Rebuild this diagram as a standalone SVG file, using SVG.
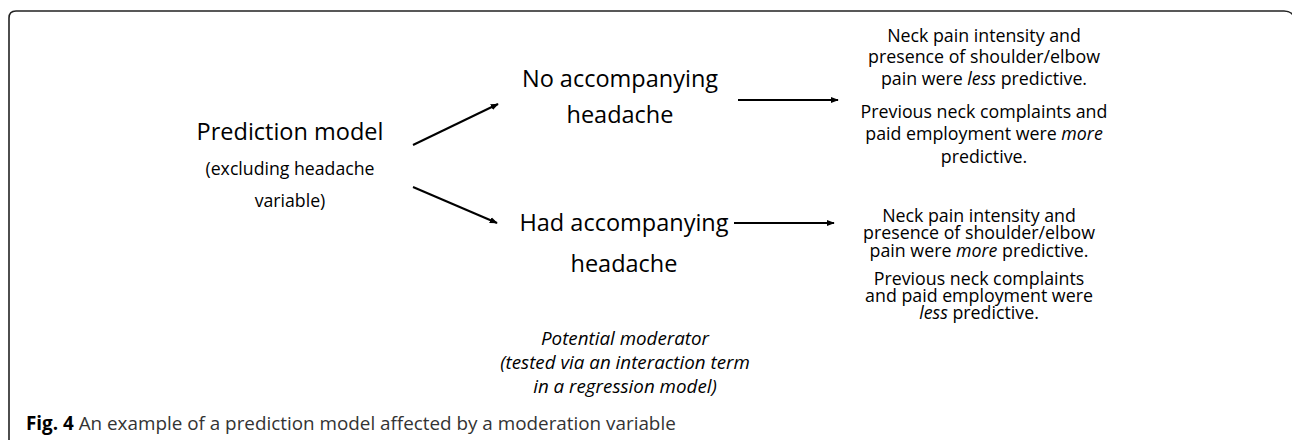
<svg xmlns="http://www.w3.org/2000/svg" width="1292" height="440" viewBox="0 0 1292 440">
<style>
.t{font-family:"Open Sans","Noto Sans",sans-serif;fill:#000;text-anchor:middle}
.big{font-size:23.5px}
.mid{font-size:17.7px}
.mod{font-size:18.8px}
.sm{font-size:17.8px}
.it{font-style:italic}
.ln{stroke:#000;stroke-width:2;fill:none}
.cap{font-family:"Open Sans","Noto Sans",sans-serif;font-size:18.85px;fill:#333}
</style>
<defs>
<marker id="ah" viewBox="0 0 10 10" refX="9" refY="5" markerWidth="4" markerHeight="4" orient="auto" markerUnits="strokeWidth">
<path d="M0,1 L10,5 L0,9 z" fill="#000"/>
</marker>
</defs>
<rect width="1292" height="440" fill="#fff"/>
<path d="M9,440 V18 Q9,11 16,11 H1284 Q1290,11 1293,15" fill="none" stroke="#222" stroke-width="1.6"/>
<g id="prediction-model">
<text class="t big" x="290" y="140">Prediction model</text>
<text class="t mid" x="290" y="175">(excluding headache</text>
<text class="t mid" x="290" y="207">variable)</text>
</g>
<g id="no-headache">
<text class="t big" x="620" y="87">No accompanying</text>
<text class="t big" x="620" y="123">headache</text>
</g>
<g id="had-headache">
<text class="t big" x="624" y="231">Had accompanying</text>
<text class="t big" x="624" y="272">headache</text>
</g>
<g id="moderator">
<text class="t mod it" x="625" y="345">Potential moderator</text>
<text class="t mod it" x="625" y="369">(tested via an interaction term</text>
<text class="t mod it" x="625" y="393">in a regression model)</text>
</g>
<g id="result-no">
<text class="t sm" x="984" y="42">Neck pain intensity and</text>
<text class="t sm" x="984" y="63">presence of shoulder/elbow</text>
<text class="t sm" x="984" y="85">pain were <tspan class="it">less</tspan> predictive.</text>
<text class="t sm" x="984" y="118">Previous neck complaints and</text>
<text class="t sm" x="984" y="140">paid employment were <tspan class="it">more</tspan></text>
<text class="t sm" x="984" y="163">predictive.</text>
</g>
<g id="result-had">
<text class="t sm" x="979" y="222">Neck pain intensity and</text>
<text class="t sm" x="979" y="239">presence of shoulder/elbow</text>
<text class="t sm" x="979" y="257">pain were <tspan class="it">more</tspan> predictive.</text>
<text class="t sm" x="979" y="285">Previous neck complaints</text>
<text class="t sm" x="979" y="302">and paid employment were</text>
<text class="t sm" x="979" y="319"><tspan class="it">less</tspan> predictive.</text>
</g>
<g id="connectors">
<line class="ln" x1="413" y1="145" x2="498" y2="104" marker-end="url(#ah)"/>
<line class="ln" x1="413" y1="187" x2="497" y2="223" marker-end="url(#ah)"/>
<line class="ln" x1="738" y1="100" x2="838" y2="100" marker-end="url(#ah)"/>
<line class="ln" x1="734" y1="223" x2="834" y2="223" marker-end="url(#ah)"/>
</g>
<g id="caption">
<text class="cap" x="26" y="430"><tspan font-weight="bold" fill="#000">Fig. 4</tspan> An example of a prediction model affected by a moderation variable</text>
</g>
</svg>
